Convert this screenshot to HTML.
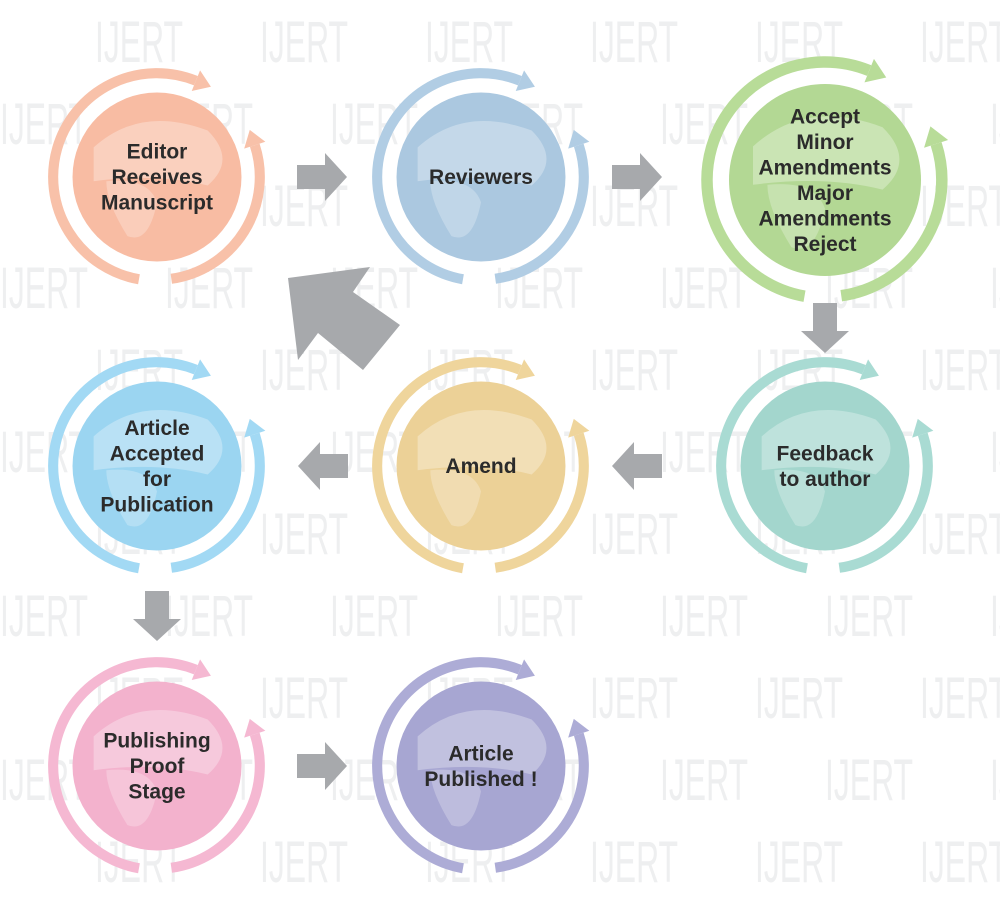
<!DOCTYPE html>
<html><head><meta charset="utf-8"><style>
html,body{margin:0;background:#fff;width:1000px;height:920px;overflow:hidden;font-family:"Liberation Sans",sans-serif}
svg{position:absolute;left:0;top:0}
</style></head><body>
<svg id="s" width="1000" height="920" viewBox="0 0 1000 920"></svg>
<script>
const s=document.getElementById('s');let h='';
for(let r=0;r<11;r++){const y=62+r*82;const off=(r%2)?0:95;
 for(let c=0;c<7;c++){const x=off+c*165;if(x>990)continue;
 h+=`<text x="${x}" y="${y}" font-family="Liberation Sans Narrow,Liberation Sans,sans-serif" font-size="58" fill="#eeeff0" transform="translate(${x},0) scale(0.55,1) translate(${-x},0)">IJERT</text>`;}}
const P=(cx,cy,r,a)=>[cx+r*Math.cos(a*Math.PI/180),cy+r*Math.sin(a*Math.PI/180)];
function arc(cx,cy,r,a0,a1,col,w,cw){
 const [x0,y0]=P(cx,cy,r,a0),[x1,y1]=P(cx,cy,r,a1);const span=Math.abs(a1-a0);const large=span>180?1:0;
 h+=`<path d="M${x0} ${y0} A${r} ${r} 0 ${large} ${cw?1:0} ${x1} ${y1}" fill="none" stroke="${col}" stroke-width="${w}"/>`;
 const t=a1*Math.PI/180;let tx=-Math.sin(t),ty=Math.cos(t);if(!cw){tx=-tx;ty=-ty;}const nx=Math.cos(t),ny=Math.sin(t);
 const L=w*1.6,W=w*1.1;
 h+=`<polygon points="${x1+tx*L},${y1+ty*L} ${x1+nx*W},${y1+ny*W} ${x1-nx*W},${y1-ny*W}" fill="${col}"/>`;
}
function node(cx,cy,k,ring,fill,lines){
 const R=118*k,ri=96*k,w=11.5*k;
 h+=`<circle cx="${cx}" cy="${cy}" r="${ri}" fill="${fill}"/>`;
 h+=`<path d="M${cx-ri*0.75} ${cy-ri*0.35} Q${cx-ri*0.2} ${cy-ri*0.85} ${cx+ri*0.6} ${cy-ri*0.55} Q${cx+ri*0.95} ${cy-ri*0.2} ${cx+ri*0.6} ${cy+ri*0.1} Q${cx} ${cy-ri*0.05} ${cx-ri*0.75} ${cy+ri*0.05}Z" fill="#fff" opacity="0.3"/>`;
 h+=`<path d="M${cx-ri*0.6} ${cy+ri*0.05} Q${cx-ri*0.1} ${cy} ${cx} ${cy+ri*0.3} Q${cx-ri*0.1} ${cy+ri*0.8} ${cx-ri*0.35} ${cy+ri*0.7} Q${cx-ri*0.6} ${cy+ri*0.3} ${cx-ri*0.6} ${cy+ri*0.05}Z" fill="#fff" opacity="0.25"/>`;
 arc(cx,cy,R,100,292,ring,w,true);
 arc(cx,cy,R*0.99,82,-18,ring,w,false);
 const lh=25.5;const y0=cy-(lines.length-1)*lh/2+7;
 lines.forEach((l,i)=>h+=`<text x="${cx}" y="${y0+i*lh}" text-anchor="middle" font-size="21" font-weight="bold" fill="#2b2b2b">${l}</text>`);
}
const k=0.88;
node(157,177,k,'#f8c1a9','#f8bca3',['Editor','Receives','Manuscript']);
node(481,177,k,'#b1cde4','#abc8e0',['Reviewers']);
node(825,180,1,'#b8dc98','#b3d894',['Accept','Minor','Amendments','Major','Amendments','Reject']);
node(825,466,k,'#a9dbd3','#a3d6cd',['Feedback','to author']);
node(481,466,k,'#efd59c','#ecd197',['Amend']);
node(157,466,k,'#a2d9f4','#9bd5f1',['Article','Accepted','for','Publication']);
node(157,766,k,'#f5b8d2','#f3b2cd',['Publishing','Proof','Stage']);
node(481,766,k,'#adacd6','#a7a6d2',['Article','Published !']);
const g='#a7a9ac';
function ar(x,y,dir){
 let pts=[[0,-12],[28,-12],[28,-24],[50,0],[28,24],[28,12],[0,12]];
 pts=pts.map(([a,b])=>dir=='r'?[x+a,y+b]:dir=='l'?[x+50-a,y+b]:[x+b,y+a]);
 h+=`<polygon points="${pts.map(p=>p.join(',')).join(' ')}" fill="${g}"/>`;
}
ar(297,177,'r');ar(612,177,'r');ar(825,303,'d');ar(298,466,'l');ar(612,466,'l');ar(157,591,'d');ar(297,766,'r');
h+=`<polygon points="288,278 370,267 353,292 400,325 363,370 318,333 298,360" fill="${g}"/>`;
s.innerHTML=h;
</script>
</body></html>
